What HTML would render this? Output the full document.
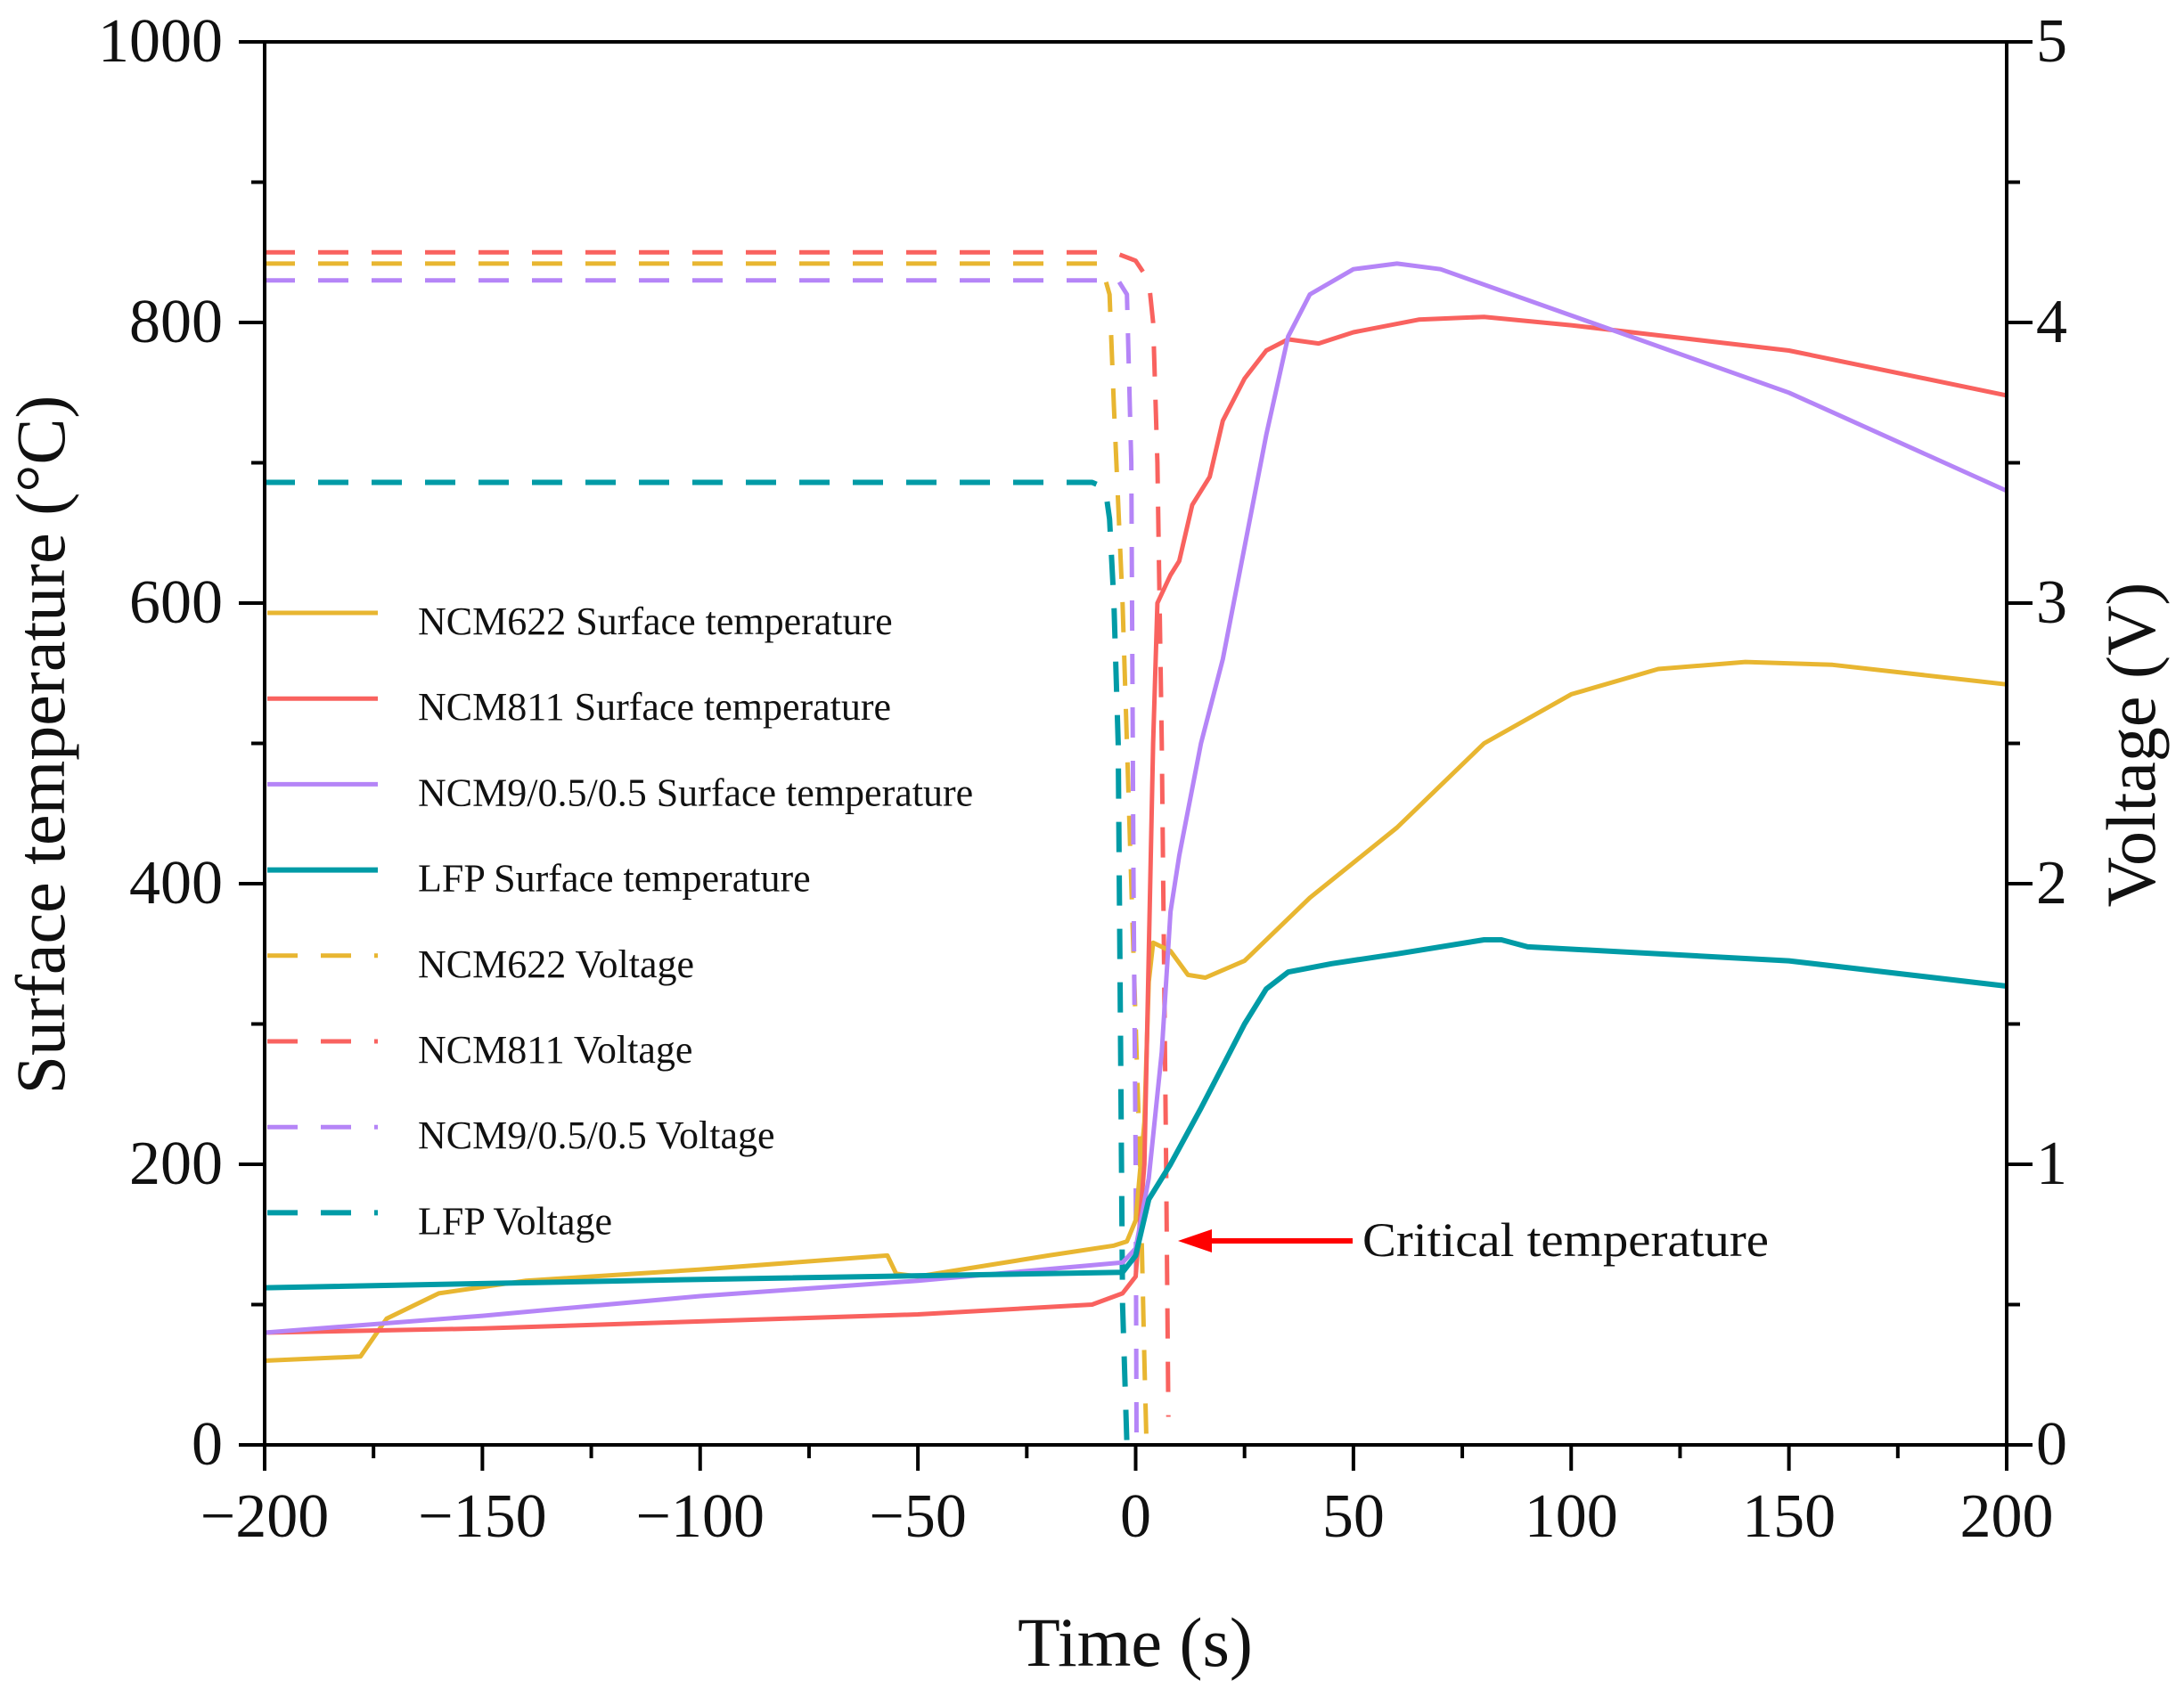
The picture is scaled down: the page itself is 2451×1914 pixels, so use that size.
<!DOCTYPE html>
<html><head><meta charset="utf-8"><style>
html,body{margin:0;padding:0;background:#fff;}
svg text{font-family:"Liberation Serif",serif;fill:#111;}
</style></head><body>
<svg id="chart" width="2451" height="1909" viewBox="0 0 2451 1909" xmlns="http://www.w3.org/2000/svg">
<rect width="2451" height="1909" fill="#fff"/>
<g id="series"></g>
<g id="axes"></g>
<g id="legend"></g>
<g>
<line x1="1518" y1="1393" x2="1350" y2="1393" stroke="#f00" stroke-width="6"/>
<polygon points="1322,1393 1360,1380 1360,1406" fill="#f00"/>
<text x="1529" y="1410" font-size="54" textLength="456" lengthAdjust="spacingAndGlyphs">Critical temperature</text>
</g>
</svg>
<script>
const xTicks=[-200,-150,-100,-50,0,50,100,150,200];
const yTicks=[0,200,400,600,800,1000];
const vTicks=[0,1,2,3,4,5];
const t622=[-200,-178,-172,-160,-140,-100,-57,-55,-50,-40,-20,-5,-2,0,2,3,4,8,12,16,25,40,60,80,100,120,140,160,200];
const T622=[60,63,90,108,117,125,135,122,120,125,135,142,145,160,230,330,358,352,335,333,345,390,440,500,535,553,558,556,542];
const t811=[-200,-150,-100,-50,-10,-3,0,2,3,4,5,8,10,13,17,20,25,30,35,42,50,65,80,100,150,200];
const T811=[80,83,88,93,100,108,120,200,350,500,600,620,630,670,690,730,760,780,788,785,793,802,804,798,780,748];
const t9=[-200,-150,-100,-50,-3,0,3,6,8,10,15,20,25,30,35,40,50,60,70,100,150,200];
const T9=[80,92,106,117,130,140,190,280,380,420,500,560,640,720,790,820,838,842,838,805,750,680];
const tLFP=[-200,-100,-3,0,3,8,15,20,25,30,35,45,60,80,84,90,150,200];
const TLFP=[112,118,123,135,175,200,240,270,300,325,337,343,350,360,360,355,345,327];
const vt622=[-200,-8,-6,-5,-3,-1,1,2,2.5];
const V622=[4.21,4.21,4.1,3.7,3.0,2.0,1.0,0.3,0];
const vt811=[-200,-5,0,3,4,5,6,7,7.5];
const V811=[4.25,4.25,4.22,4.15,4.0,3.5,2.5,1.0,0.1];
const vt9=[-200,-4,-2,-1,-0.5,0,0.2];
const V9=[4.15,4.15,4.1,3.5,2.0,1.0,0];
const vtLFP=[-200,-10,-7,-6,-5,-4,-3.5,-3,-2];
const VLFP=[3.43,3.43,3.41,3.3,3.0,2.5,1.5,0.5,0];

const L=297,R=2252,T=47,B=1622;
const X=t=>L+(t+200)/400*(R-L);
const Y=v=>B-v/1000*(B-T);
const YV=v=>B-v/5*(B-T);
const NS="http://www.w3.org/2000/svg";
function mk(tag,attrs,parent){const e=document.createElementNS(NS,tag);for(const k in attrs)e.setAttribute(k,attrs[k]);parent.appendChild(e);return e;}
const S=document.getElementById('series'),A=document.getElementById('axes'),G=document.getElementById('legend');
const C={y:'#E8B631',r:'#F9625F',p:'#B585F7',t:'#009BA6'};
function line(ts,vs,fy,color,dash,w,name){
  const d=ts.map((t,i)=>(i?'L':'M')+X(t).toFixed(1)+','+fy(vs[i]).toFixed(1)).join(' ');
  const p=mk('path',{d:d,fill:'none',stroke:color,'stroke-width':w,'stroke-linejoin':'round'},S);
  if(dash)p.setAttribute('stroke-dasharray',dash);
  
  
}
line(vt622,V622,YV,C.y,'34,26',5,'ncm622-voltage-line');
line(vt811,V811,YV,C.r,'34,26',5,'ncm811-voltage-line');
line(vt9,V9,YV,C.p,'34,26',5,'ncm9-voltage-line');
line(vtLFP,VLFP,YV,C.t,'34,26',6,'lfp-voltage-line');
line(t622,T622,Y,C.y,null,5,'ncm622-temperature-line');
line(t811,T811,Y,C.r,null,5,'ncm811-temperature-line');
line(t9,T9,Y,C.p,null,5,'ncm9-temperature-line');
line(tLFP,TLFP,Y,C.t,null,6,'lfp-temperature-line');

// axes
mk('rect',{x:L,y:T,width:R-L,height:B-T,fill:'none',stroke:'#000','stroke-width':4},A);
for(let v=-200;v<=200;v+=25){const maj=v%50===0;mk('line',{x1:X(v),y1:B,x2:X(v),y2:B+(maj?29:15),stroke:'#000','stroke-width':4},A);}
for(let v=0;v<=1000;v+=100){const maj=v%200===0;mk('line',{x1:L,y1:Y(v),x2:L-(maj?29:15),y2:Y(v),stroke:'#000','stroke-width':4},A);
 mk('line',{x1:R,y1:Y(v),x2:R+(maj?29:15),y2:Y(v),stroke:'#000','stroke-width':4},A);}
xTicks.forEach(v=>{const e=mk('text',{x:X(v),y:1725,'font-size':70,'text-anchor':'middle'},A);e.textContent=(v<0?'\u2212':'')+Math.abs(v);
 });
yTicks.forEach(v=>{const e=mk('text',{x:250,y:Y(v)+22,'font-size':70,'text-anchor':'end'},A);e.textContent=v;
 });
vTicks.forEach(v=>{const e=mk('text',{x:2285,y:YV(v)+22,'font-size':70,'text-anchor':'start'},A);e.textContent=v;
 });
let e=mk('text',{x:1274,y:1870,'font-size':78,'text-anchor':'middle'},A);e.textContent='Time (s)';

e=mk('text',{x:0,y:0,'font-size':78,'text-anchor':'middle',transform:'translate(72,836) rotate(-90)'},A);e.textContent='Surface temperature (\u00B0C)';

e=mk('text',{x:0,y:0,'font-size':78,'text-anchor':'middle',transform:'translate(2418,836) rotate(-90)'},A);e.textContent='Voltage (V)';


// legend
const legNames=['NCM622 Surface temperature','NCM811 Surface temperature','NCM9/0.5/0.5 Surface temperature','LFP Surface temperature','NCM622 Voltage','NCM811 Voltage','NCM9/0.5/0.5 Voltage','LFP Voltage'];
const legColors=[C.y,C.r,C.p,C.t,C.y,C.r,C.p,C.t];
legNames.forEach((n,i)=>{
 const y=712+i*96.2, dashed=i>=4;
 const ln=mk('line',{x1:300,y1:y-24,x2:424,y2:y-24,stroke:legColors[i],'stroke-width':i%4===3?6:5},G);
 if(dashed)ln.setAttribute('stroke-dasharray','34,26');
 
 
 const t=mk('text',{x:469,y:y,'font-size':44},G);t.textContent=n;
 
 
});
</script>
</body></html>
